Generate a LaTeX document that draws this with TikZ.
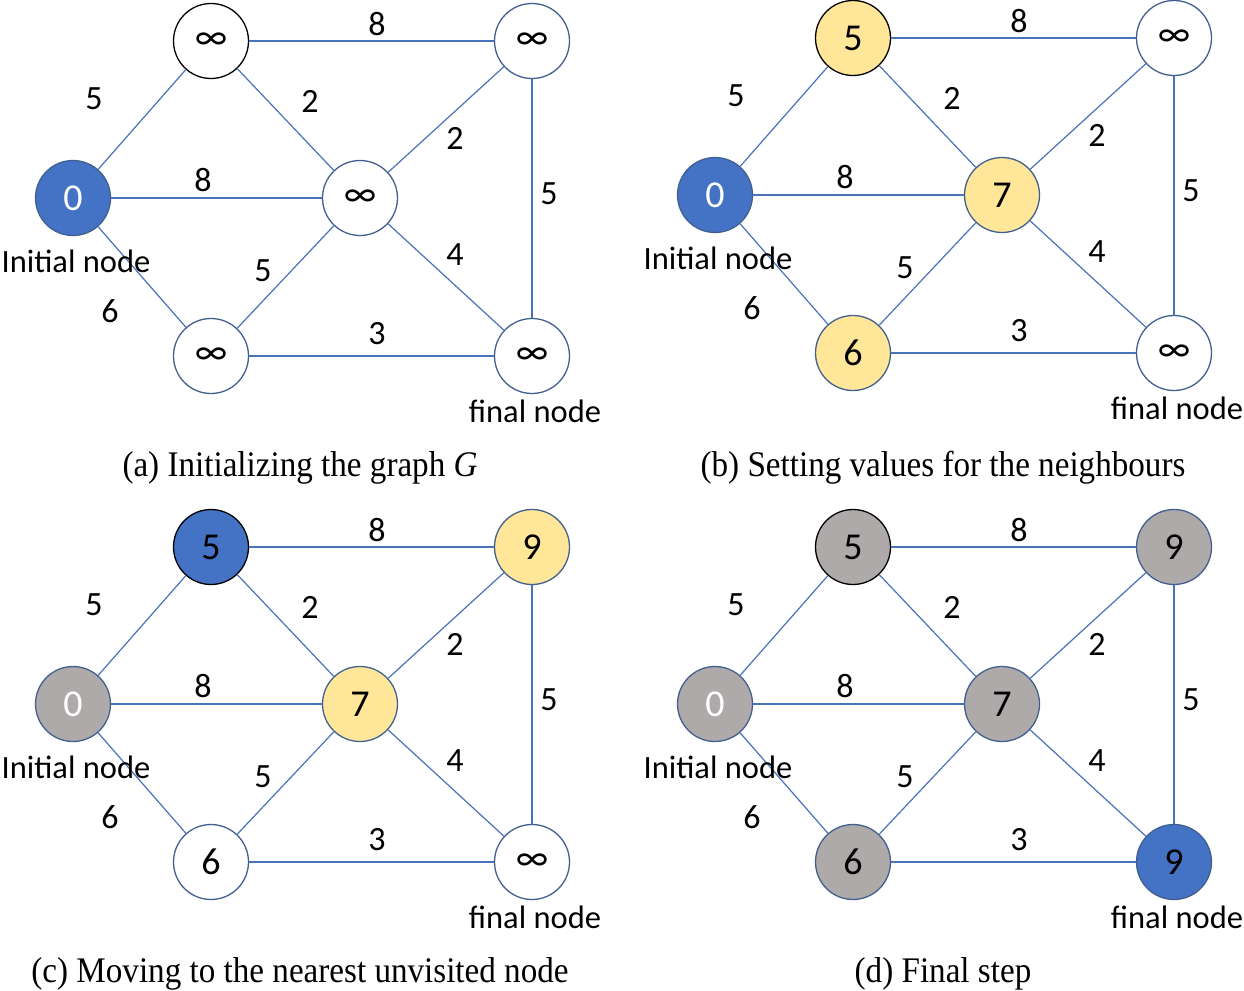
\documentclass[tikz,border=0pt]{standalone}
\usepackage{fontspec}
\setmainfont{Carlito}
\newfontfamily\capfont{Liberation Serif}
\definecolor{nblue}{HTML}{4472C4}
\definecolor{nyellow}{HTML}{FFE699}
\definecolor{ngray}{HTML}{AEAAAA}
\definecolor{nedge}{HTML}{4A72B8}
\definecolor{nborder}{HTML}{41608F}
\tikzset{
 vtx/.style={circle, minimum size=75pt, inner sep=0pt, draw=nborder, line width=1.3pt, font=\fontsize{38}{42}\selectfont},
 vblack/.style={draw=black},
 vwhite/.style={fill=white},
 vblue/.style={fill=nblue, text=white},
 vyellow/.style={fill=nyellow},
 vgray/.style={fill=ngray},
 link/.style={draw=nedge, line width=1.2pt},
 wlab/.style={font=\fontsize{34}{38}\selectfont, inner sep=0pt},
 tlab/.style={font=\fontsize{32.5}{38}\selectfont, inner sep=0pt},
 caption/.style={font=\capfont\fontsize{36}{40}\selectfont, inner sep=0pt, xscale=0.92}
}
\newcommand\paneledges[1]{%
 \draw[link] (#1s) -- (#1t);
 \draw[link] (#1t) -- (#1r);
 \draw[link] (#1t) -- (#1m);
 \draw[link] (#1m) -- (#1r);
 \draw[link] (#1s) -- (#1m);
 \draw[link] (#1r) -- (#1f);
 \draw[link] (#1m) -- (#1b);
 \draw[link] (#1m) -- (#1f);
 \draw[link] (#1s) -- (#1b);
 \draw[link] (#1b) -- (#1f);
 \node[wlab] (#1l1) at (94,99) {5};
 \node[wlab] (#1l2) at (377,24) {8};
 \node[wlab] (#1l3) at (310,101) {2};
 \node[wlab] (#1l4) at (455,138) {2};
 \node[wlab] (#1l5) at (203,180) {8};
 \node[wlab] (#1l6) at (549,194) {5};
 \node[wlab] (#1l7) at (263,271) {5};
 \node[wlab] (#1l8) at (455,255) {4};
 \node[wlab] (#1l9) at (110,311) {6};
 \node[wlab] (#1l10) at (377,334) {3};
 \node[tlab] (#1init) at (76,261) {Initial node};
 \node[tlab] (#1final) at (535,411) {final node};
}
\begin{document}
\begin{tikzpicture}[x=1pt,y=-1pt]
\useasboundingbox[fill=white] (0,0) rectangle (1244,990);
% panel (a)
\begin{scope}[shift={(0,0)}]
 \node[vtx,vblue,draw=nborder] (as) at (73,198) {0};
 \node[vtx,vwhite,vblack] (at) at (211,41) {∞};
 \node[vtx,vwhite] (ar) at (532,41) {∞};
 \node[vtx,vwhite] (am) at (360,198) {∞};
 \node[vtx,vwhite] (ab) at (211,356) {∞};
 \node[vtx,vwhite] (af) at (532,356) {∞};
 \paneledges{a}
\end{scope}
% panel (b)
\begin{scope}[shift={(642,-3)}]
 \node[vtx,vblue] (bs) at (73,198) {0};
 \node[vtx,vyellow,vblack] (bt) at (211,41) {5};
 \node[vtx,vwhite] (br) at (532,41) {∞};
 \node[vtx,vyellow] (bm) at (360,198) {7};
 \node[vtx,vyellow] (bb) at (211,356) {6};
 \node[vtx,vwhite] (bf) at (532,356) {∞};
 \paneledges{b}
\end{scope}
% panel (c)
\begin{scope}[shift={(0,506)}]
 \node[vtx,vgray,text=white] (cs) at (73,198) {0};
 \node[vtx,vblue,vblack] (ct) at (211,41) {\textcolor{black}{5}};
 \node[vtx,vyellow] (cr) at (532,41) {9};
 \node[vtx,vyellow] (cm) at (360,198) {7};
 \node[vtx,vwhite] (cb) at (211,356) {6};
 \node[vtx,vwhite] (cf) at (532,356) {∞};
 \paneledges{c}
\end{scope}
% panel (d)
\begin{scope}[shift={(642,506)}]
 \node[vtx,vgray,text=white] (ds) at (73,198) {0};
 \node[vtx,vgray,vblack] (dt) at (211,41) {5};
 \node[vtx,vgray] (dr) at (532,41) {9};
 \node[vtx,vgray] (dm) at (360,198) {7};
 \node[vtx,vgray] (db) at (211,356) {6};
 \node[vtx,vblue,text=black] (df) at (532,356) {9};
 \paneledges{d}
\end{scope}
\node[caption] (capa) at (300,468) {(a) Initializing the graph \textit{G}};
\node[caption] (capb) at (943,468) {(b) Setting values for the neighbours};
\node[caption] (capc) at (300,974) {(c) Moving to the nearest unvisited node};
\node[caption] (capd) at (943,974) {(d) Final step};
\end{tikzpicture}
\end{document}
